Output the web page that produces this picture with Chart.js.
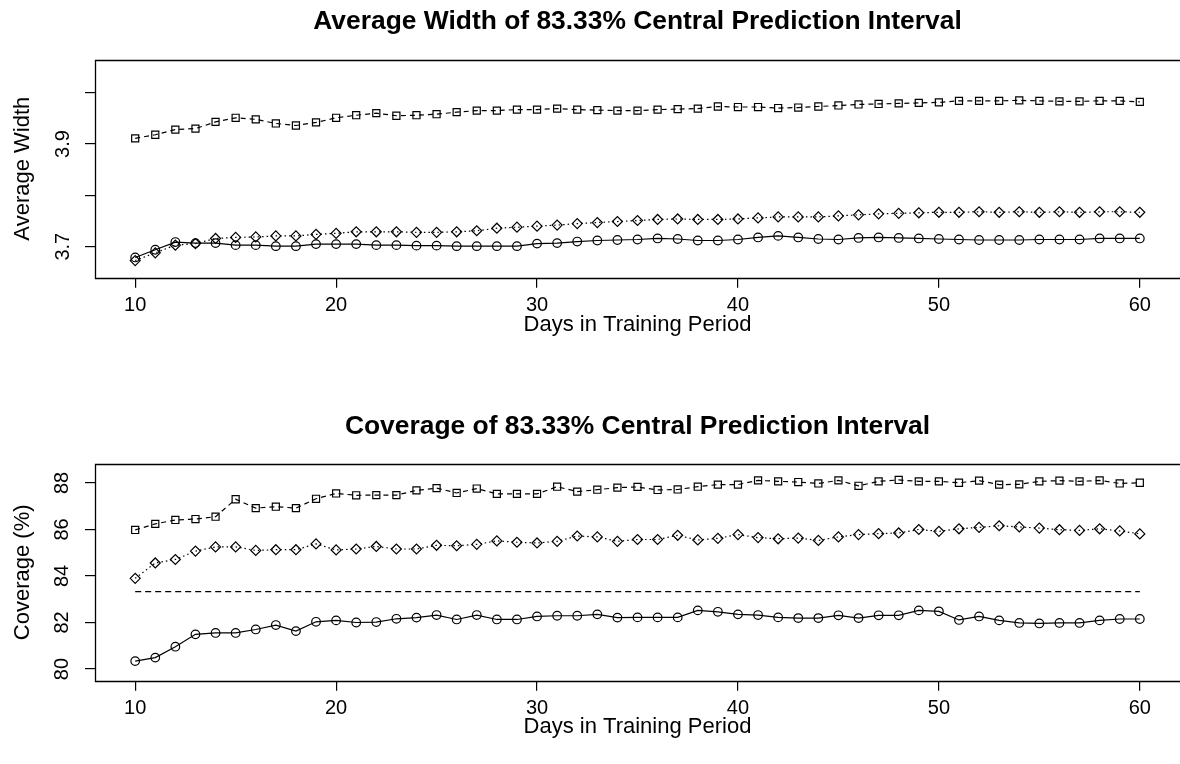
<!DOCTYPE html>
<html>
<head>
<meta charset="utf-8">
<script src="https://cdn.jsdelivr.net/npm/chart.js@4.4.1/dist/chart.umd.min.js"></script>
<style>
  body { margin: 0; background: #fff; overflow: hidden; }
  .panel { position: absolute; left: 0; width: 1180px; height: 382px; }
  #topPanel { top: 0; }
  #bottomPanel { top: 382px; }
</style>
</head>
<body>
<div id="topPanel" class="panel"><canvas id="widthChart" width="1180" height="382"></canvas></div>
<div id="bottomPanel" class="panel"><canvas id="coverChart" width="1180" height="382"></canvas></div>
<script>
/* ===== Data ===== */
const days = [10, 11, 12, 13, 14, 15, 16, 17, 18, 19, 20, 21, 22, 23, 24, 25, 26, 27, 28, 29, 30,
  31, 32, 33, 34, 35, 36, 37, 38, 39, 40, 41, 42, 43, 44, 45, 46, 47, 48, 49, 50,
  51, 52, 53, 54, 55, 56, 57, 58, 59, 60];

// average width, top panel
const widthSquare = [3.911, 3.918, 3.928, 3.930, 3.943, 3.951, 3.948, 3.940, 3.936, 3.942,
  3.951, 3.956, 3.960, 3.955, 3.956, 3.958, 3.962, 3.965, 3.965, 3.967,
  3.967, 3.969, 3.967, 3.966, 3.965, 3.965, 3.967, 3.968, 3.969, 3.973,
  3.972, 3.972, 3.970, 3.971, 3.973, 3.975, 3.977, 3.978, 3.979, 3.980,
  3.981, 3.984, 3.984, 3.984, 3.985, 3.984, 3.983, 3.983, 3.984, 3.984, 3.982];
const widthDiamond = [3.673, 3.688, 3.703, 3.706, 3.716, 3.718, 3.719, 3.721, 3.721, 3.724,
  3.726, 3.729, 3.729, 3.729, 3.728, 3.728, 3.729, 3.731, 3.736, 3.738,
  3.740, 3.742, 3.745, 3.747, 3.749, 3.751, 3.753, 3.754, 3.753, 3.753,
  3.754, 3.756, 3.758, 3.758, 3.758, 3.760, 3.762, 3.764, 3.765, 3.766,
  3.767, 3.767, 3.768, 3.767, 3.768, 3.767, 3.768, 3.767, 3.768, 3.768, 3.767];
const widthCircle = [3.679, 3.694, 3.709, 3.707, 3.707, 3.703, 3.703, 3.701, 3.701, 3.705,
  3.705, 3.705, 3.703, 3.703, 3.702, 3.702, 3.701, 3.701, 3.701, 3.701,
  3.706, 3.707, 3.710, 3.712, 3.713, 3.714, 3.716, 3.715, 3.712, 3.712,
  3.714, 3.718, 3.721, 3.718, 3.715, 3.714, 3.717, 3.718, 3.717, 3.716,
  3.715, 3.714, 3.713, 3.713, 3.713, 3.714, 3.714, 3.714, 3.716, 3.716, 3.716];

// coverage (%), bottom panel
const coverSquare = [85.98, 86.24, 86.41, 86.45, 86.55, 87.30, 86.92, 86.98, 86.92, 87.32,
  87.55, 87.47, 87.48, 87.48, 87.68, 87.78, 87.57, 87.76, 87.53, 87.53,
  87.53, 87.84, 87.63, 87.71, 87.80, 87.83, 87.70, 87.72, 87.84, 87.93,
  87.93, 88.11, 88.07, 88.04, 87.98, 88.11, 87.88, 88.07, 88.13, 88.07,
  88.07, 88.01, 88.10, 87.93, 87.94, 88.07, 88.10, 88.07, 88.11, 87.98, 88.01];
const coverDiamond = [83.90, 84.56, 84.71, 85.07, 85.25, 85.25, 85.10, 85.13, 85.13, 85.38,
  85.12, 85.16, 85.27, 85.16, 85.16, 85.32, 85.30, 85.36, 85.51, 85.45,
  85.42, 85.49, 85.72, 85.68, 85.49, 85.57, 85.57, 85.75, 85.55, 85.62,
  85.78, 85.65, 85.60, 85.63, 85.53, 85.68, 85.78, 85.82, 85.85, 86.00,
  85.92, 86.03, 86.09, 86.16, 86.11, 86.06, 85.99, 85.96, 86.03, 85.94, 85.81];
const coverCircle = [80.34, 80.49, 80.96, 81.49, 81.55, 81.55, 81.70, 81.89, 81.63, 82.03,
  82.09, 82.00, 82.02, 82.16, 82.21, 82.32, 82.13, 82.32, 82.13, 82.13,
  82.26, 82.29, 82.29, 82.35, 82.21, 82.22, 82.22, 82.22, 82.52, 82.46,
  82.35, 82.32, 82.22, 82.19, 82.19, 82.31, 82.19, 82.31, 82.31, 82.52,
  82.48, 82.11, 82.26, 82.09, 81.98, 81.96, 81.98, 81.98, 82.09, 82.15, 82.15];
const nominalCoverage = 83.33;

// ticks
const xTicks = [10, 20, 30, 40, 50, 60];
const widthYTicks = [3.7, 3.8, 3.9, 4.0];
const widthYLabels = ["3.7", "", "3.9", ""];
const coverYTicks = [80, 82, 84, 86, 88];
const coverYLabels = ["80", "82", "84", "86", "88"];

/* ===== Helpers ===== */
const FONT = "'Liberation Sans', Arial, Helvetica, sans-serif";

function toPoints(values) {
  return days.map((d, i) => ({ x: d, y: values[i] }));
}

function series(values, pointStyle, radius, dash) {
  return {
    data: toPoints(values),
    borderColor: "#000",
    borderWidth: 1.2,
    borderDash: dash,
    pointStyle: pointStyle,
    pointRadius: radius,
    pointHoverRadius: radius,
    pointBorderColor: "#000",
    pointBackgroundColor: "rgba(0,0,0,0)",
    pointBorderWidth: 1.2,
    tension: 0,
    fill: false,
  };
}

// R-style box: left, top and bottom edges (right edge falls outside the picture)
const boxPlugin = {
  id: "box",
  afterDraw(chart) {
    const { ctx, chartArea: a } = chart;
    ctx.save();
    ctx.strokeStyle = "#000";
    ctx.lineWidth = 1.3;
    ctx.beginPath();
    ctx.moveTo(a.right + 2, Math.round(a.top) + 0.5);
    ctx.lineTo(Math.round(a.left) + 0.5, Math.round(a.top) + 0.5);
    ctx.lineTo(Math.round(a.left) + 0.5, Math.round(a.bottom) + 0.5);
    ctx.lineTo(a.right + 2, Math.round(a.bottom) + 0.5);
    ctx.stroke();
    ctx.restore();
  },
};

function buildOptions(cfg) {
  return {
    responsive: false,
    animation: false,
    devicePixelRatio: 1,
    layout: { padding: 0, autoPadding: false },
    plugins: {
      legend: { display: false },
      tooltip: { enabled: false },
      title: {
        display: true,
        fullSize: false,
        text: cfg.title,
        color: "#000",
        font: { family: FONT, size: 26.4, weight: "bold", lineHeight: 1.2 },
        padding: { top: cfg.titleTop, bottom: cfg.titleBottom },
      },
    },
    scales: {
      x: {
        type: "linear",
        min: 8,
        max: 62,
        afterFit: (scale) => {
          scale.height = cfg.xHeight;
          scale.paddingLeft = 0;
          scale.paddingRight = 0;
        },
        afterBuildTicks: (scale) => { scale.ticks = xTicks.map((v) => ({ value: v })); },
        border: { display: false },
        grid: { drawOnChartArea: false, drawTicks: true, tickLength: 10, lineWidth: 1.2, color: "#000" },
        ticks: {
          autoSkip: false,
          color: "#000",
          padding: 5.3,
          font: { family: FONT, size: 20 },
          maxRotation: 0,
        },
        title: {
          display: true,
          text: "Days in Training Period",
          color: "#000",
          font: { family: FONT, size: 22 },
          padding: { top: 0, bottom: cfg.xTitleBottom },
        },
      },
      y: {
        type: "linear",
        min: cfg.yMin,
        max: cfg.yMax,
        afterFit: (scale) => {
          scale.width = 95;
          scale.paddingTop = 0;
          scale.paddingBottom = 0;
        },
        afterBuildTicks: (scale) => { scale.ticks = cfg.yTicks.map((v) => ({ value: v })); },
        border: { display: false },
        grid: { drawOnChartArea: false, drawTicks: true, tickLength: 10, lineWidth: 1.2, color: "#000" },
        ticks: {
          autoSkip: false,
          color: "#000",
          padding: cfg.yTickPad,
          crossAlign: "center",
          minRotation: 90,
          maxRotation: 90,
          font: { family: FONT, size: 20 },
          callback: (value) => {
            const idx = cfg.yTicks.findIndex((t) => Math.abs(t - value) < 1e-9);
            return idx >= 0 ? cfg.yLabels[idx] : "";
          },
        },
        title: {
          display: true,
          text: cfg.yTitle,
          color: "#000",
          font: { family: FONT, size: 22 },
          padding: { top: 10.1, bottom: 0 },
        },
      },
    },
  };
}

/* ===== Charts ===== */
new Chart(document.getElementById("widthChart"), {
  type: "line",
  data: {
    datasets: [
      series(widthSquare, "rect", 5, [5, 4]),
      series(widthDiamond, "rectRot", 5, [1.5, 3]),
      series(widthCircle, "circle", 4.3, []),
    ],
  },
  options: buildOptions({
    title: "Average Width of 83.33% Central Prediction Interval",
    titleTop: 6.2,
    titleBottom: 21.8,
    xHeight: 104.3,
    xTitleBottom: 43.8,
    yMin: 3.6396,
    yMax: 4.0642,
    yTicks: widthYTicks,
    yLabels: widthYLabels,
    yTickPad: 8.1,
    yTitle: "Average Width",
  }),
  plugins: [boxPlugin],
});

new Chart(document.getElementById("coverChart"), {
  type: "line",
  data: {
    datasets: [
      series(coverSquare, "rect", 5, [5, 4]),
      series(coverDiamond, "rectRot", 5, [1.5, 3]),
      series(coverCircle, "circle", 4.3, []),
      {
        data: [{ x: days[0], y: nominalCoverage }, { x: days[days.length - 1], y: nominalCoverage }],
        borderColor: "#000",
        borderWidth: 1.2,
        borderDash: [6, 4],
        pointRadius: 0,
        pointHoverRadius: 0,
        tension: 0,
        fill: false,
      },
    ],
  },
  options: buildOptions({
    title: "Coverage of 83.33% Central Prediction Interval",
    titleTop: 29.2,
    titleBottom: 21.1,
    xHeight: 83.3,
    xTitleBottom: 23.8,
    yMin: 79.497,
    yMax: 88.817,
    yTicks: coverYTicks,
    yLabels: coverYLabels,
    yTickPad: 10.9,
    yTitle: "Coverage (%)",
  }),
  plugins: [boxPlugin],
});
</script>
</body>
</html>
